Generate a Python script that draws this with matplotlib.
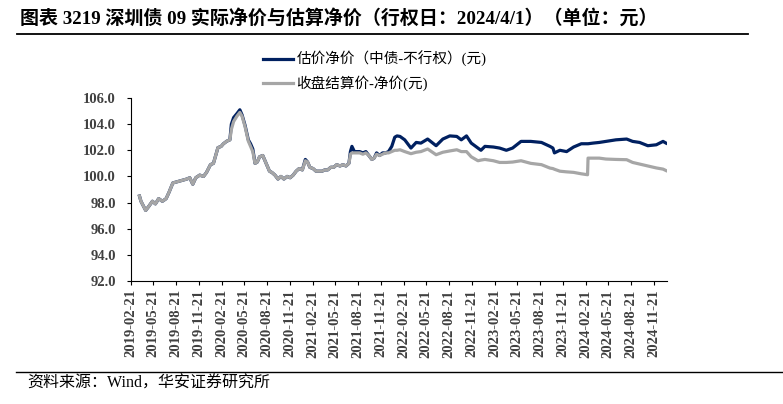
import matplotlib
matplotlib.use('Agg')
import matplotlib.pyplot as plt
import matplotlib.dates as mdates
from matplotlib.lines import Line2D
import pandas as pd

plt.rcParams['font.family'] = ['Liberation Serif', 'Noto Sans CJK SC', 'DejaVu Sans']

# shared part (before the two series split, blue == grey except near the 2020 peak)
early_dates = ['2019-03-27', '2019-04-02', '2019-04-21', '2019-05-03', '2019-05-18', '2019-05-30',
               '2019-06-12', '2019-06-27', '2019-07-12', '2019-07-24', '2019-08-08', '2019-08-27',
               '2019-09-15', '2019-10-03', '2019-10-15', '2019-10-27', '2019-11-08', '2019-11-24',
               '2019-12-09', '2019-12-21', '2020-01-06', '2020-01-18', '2020-01-27', '2020-02-05',
               '2020-02-18', '2020-02-27', '2020-03-12', '2020-03-24', '2020-03-30', '2020-04-08',
               '2020-04-21', '2020-05-03', '2020-05-12', '2020-05-24', '2020-06-06', '2020-06-15',
               '2020-06-24', '2020-07-03', '2020-07-12', '2020-07-21', '2020-08-03', '2020-08-12',
               '2020-08-21', '2020-08-30', '2020-09-09', '2020-09-21', '2020-10-03', '2020-10-15',
               '2020-10-27', '2020-11-09', '2020-11-21', '2020-12-03', '2020-12-15', '2020-12-27',
               '2021-01-09', '2021-01-21', '2021-01-30', '2021-02-08', '2021-02-21', '2021-03-05',
               '2021-03-17', '2021-03-29', '2021-04-09', '2021-04-21', '2021-05-03', '2021-05-15',
               '2021-05-27', '2021-06-09', '2021-06-21', '2021-07-03', '2021-07-15', '2021-07-21',
               '2021-07-27', '2021-08-06', '2021-08-15', '2021-08-27', '2021-09-09', '2021-09-21',
               '2021-10-03', '2021-10-15', '2021-10-24', '2021-11-03', '2021-11-15', '2021-11-27',
               '2021-12-09', '2021-12-21', '2022-01-03', '2022-01-15', '2022-01-24']
early_grey = [98.5, 98.1, 97.4, 97.7, 98.1, 97.9,
              98.3, 98.1, 98.3, 98.8, 99.5, 99.6,
              99.7, 99.8, 99.9, 99.4, 99.9, 100.1,
              100.0, 100.3, 100.9, 101.0, 101.6, 102.2,
              102.3, 102.5, 102.7, 102.8, 103.6, 104.2,
              104.6, 104.9, 104.6, 103.8, 102.7, 102.3,
              101.9, 101.0, 101.1, 101.5, 101.6, 101.2,
              100.8, 100.4, 100.3, 100.1, 99.8, 100.0,
              99.8, 100.0, 99.9, 100.1, 100.4, 100.6,
              100.5, 101.2, 101.1, 100.7, 100.6, 100.4,
              100.4, 100.4, 100.5, 100.5, 100.7, 100.7,
              100.9, 100.8, 100.9, 100.8, 101.0, 101.7,
              101.8, 101.8, 101.8, 101.8, 101.7, 101.8,
              101.6, 101.3, 101.4, 101.7, 101.6, 101.7,
              101.8, 101.8, 101.9, 102.0, 102.0]
early_blue = [98.5, 98.1, 97.4, 97.7, 98.1, 97.9,
              98.3, 98.1, 98.3, 98.8, 99.5, 99.6,
              99.7, 99.8, 99.9, 99.4, 99.9, 100.1,
              100.0, 100.3, 100.9, 101.0, 101.6, 102.2,
              102.3, 102.5, 102.7, 102.8, 104.0, 104.5,
              104.8, 105.1, 104.7, 103.9, 102.8, 102.5,
              102.1, 101.0, 101.1, 101.5, 101.6, 101.2,
              100.8, 100.4, 100.3, 100.1, 99.8, 100.0,
              99.8, 100.0, 99.9, 100.1, 100.4, 100.6,
              100.5, 101.3, 101.1, 100.7, 100.6, 100.4,
              100.4, 100.4, 100.5, 100.5, 100.7, 100.7,
              100.9, 100.8, 100.9, 100.8, 101.0, 101.9,
              102.3, 101.9, 101.9, 101.9, 101.8, 101.9,
              101.6, 101.3, 101.4, 101.8, 101.6, 101.8,
              101.8, 101.9, 102.3, 103.0, 103.1]

late_dates = ['2022-02-05', '2022-02-24', '2022-03-21', '2022-04-11', '2022-04-30', '2022-05-27',
              '2022-06-30', '2022-07-27', '2022-08-24', '2022-09-21', '2022-10-09', '2022-10-30',
              '2022-11-18', '2022-12-15', '2022-12-27', '2023-01-12', '2023-02-15', '2023-03-12',
              '2023-04-08', '2023-05-03', '2023-06-06', '2023-07-15', '2023-08-27', '2023-09-30',
              '2023-10-12', '2023-10-18', '2023-11-09', '2023-12-06', '2024-01-03', '2024-02-03',
              '2024-02-28', '2024-03-01', '2024-03-21', '2024-04-15', '2024-05-12', '2024-06-21',
              '2024-08-03', '2024-08-27', '2024-09-24', '2024-10-27', '2024-11-30', '2024-12-27',
              '2025-01-08']
late_blue = [103.06, 102.8, 102.17, 102.6, 102.55, 102.86,
             102.35, 102.86, 103.1, 103.06, 102.8, 103.1,
             102.55, 102.17, 102.0, 102.3, 102.25, 102.17,
             102.0, 102.17, 102.68, 102.68, 102.6, 102.3,
             102.17, 101.8, 102.0, 101.9, 102.25, 102.5,
             102.5, 102.5, 102.55, 102.6, 102.68, 102.8,
             102.86, 102.68, 102.6, 102.35, 102.42, 102.68,
             102.55]
late_grey = [102.04, 101.9, 101.74, 101.85, 101.9, 102.1,
             101.66, 101.85, 101.95, 102.04, 101.9, 101.9,
             101.5, 101.2, 101.25, 101.3, 101.2, 101.07,
             101.07, 101.1, 101.2, 101.0, 100.9, 100.64,
             100.6, 100.55, 100.4, 100.35, 100.31, 100.2,
             100.13, 101.4, 101.4, 101.4, 101.33, 101.3,
             101.28, 101.07, 100.95, 100.8, 100.65, 100.56,
             100.45]

dates = pd.to_datetime(early_dates + late_dates)
blue = early_blue + late_blue
grey = early_grey + late_grey

title = '图表 3219 深圳债 09 实际净价与估算净价（行权日：2024/4/1）（单位：元）'
label_blue = '估价净价（中债-不行权）(元)'
label_grey = '收盘结算价-净价(元)'

fig = plt.figure(figsize=(7.83, 4.04), dpi=100)
ax = fig.add_axes([131 / 783, 1 - 281 / 404, (667 - 131) / 783, (281 - 98) / 404])

l1, = ax.plot(dates, blue, color='#002060', lw=2.3, label=label_blue)
l2, = ax.plot(dates, grey, color='#A6A6A6', lw=2.3, label=label_grey)

ax.set_ylim(92, 106)
ax.set_yticks([92, 94, 96, 98, 100, 102, 104, 106])
ax.yaxis.set_major_formatter(plt.FuncFormatter(lambda v, p: '%.1f' % v))
ax.set_xlim(pd.Timestamp('2019-02-21'), pd.Timestamp('2025-01-12'))
ax.xaxis.set_major_locator(mdates.MonthLocator(bymonth=[2, 5, 8, 11], bymonthday=21))
ax.xaxis.set_major_formatter(mdates.DateFormatter('%Y-%m-%d'))

for s in ['top', 'right']:
    ax.spines[s].set_visible(False)
for s in ['left', 'bottom']:
    ax.spines[s].set_color('black')
    ax.spines[s].set_linewidth(0.8)
ax.tick_params(axis='y', direction='out', length=3, width=0.8, pad=8, labelsize=10.5, labelcolor='#404040')
ax.tick_params(axis='x', direction='out', length=3, width=0.8, pad=3, labelsize=10.5, labelcolor='#404040',
               labelrotation=90)
for t in ax.get_xticklabels() + ax.get_yticklabels():
    t.set_fontweight('bold')

fig.legend(handles=[l1, l2], loc='upper left', bbox_to_anchor=(257 / 783, 1 - 45 / 404), frameon=False,
           handlelength=2.1, handletextpad=0.2, labelspacing=0.6, borderaxespad=0,
           prop={'family': ['Liberation Serif', 'Noto Sans CJK SC'], 'size': 10.5})

fig.text(20 / 783, 1 - 18 / 404, title, fontsize=13.7, fontweight='bold', va='center', ha='left')
fig.add_artist(Line2D([17 / 783, 748 / 783], [1 - 34 / 404] * 2, color='black', lw=1.3))
fig.add_artist(Line2D([16 / 783, 783 / 783], [1 - 372 / 404] * 2, color='black', lw=1.0))
fig.text(27 / 783, 1 - 384 / 404, '资料来源：Wind，华安证券研究所', fontsize=11.5, va='center', ha='left')

fig.savefig('out.png', dpi=100)
